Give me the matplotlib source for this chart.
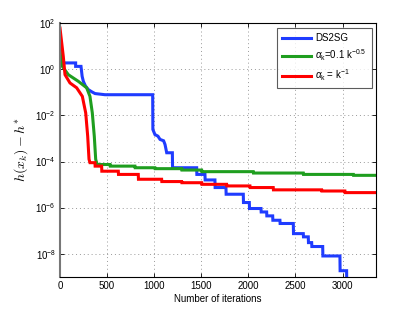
import numpy as np
import matplotlib
matplotlib.use("Agg")
import matplotlib.pyplot as plt
from matplotlib.ticker import FixedLocator, NullLocator

# ---- data (log10 of h(x_k) - h*) ----
blue_it = [0, 166, 166, 223, 235, 248, 270, 301, 340, 372, 478, 984, 986, 1008, 1040, 1062, 1100, 1115, 1133, 1193, 1195,
           1451, 1453, 1539, 1541, 1645, 1647, 1762, 1764, 1946, 1948, 2010, 2012, 2134, 2136, 2194, 2196, 2258, 2260,
           2335, 2337, 2477, 2479, 2583, 2585, 2636, 2638, 2672, 2674, 2789, 2791, 2972, 2974, 3043, 3045]
blue_lg = [0.28, 0.28, 0.13, 0.13, -0.3, -0.52, -0.72, -0.88, -0.98, -1.05, -1.1, -1.1, -2.61, -2.83, -2.9, -3.04, -3.1,
           -3.26, -3.62, -3.62, -4.27, -4.27, -4.56, -4.56, -4.8, -4.8, -5.13, -5.13, -5.42, -5.42, -5.78, -5.78,
           -6.04, -6.04, -6.19, -6.19, -6.36, -6.36, -6.55, -6.55, -6.69, -6.69, -7.13, -7.13, -7.27, -7.27, -7.52,
           -7.52, -7.69, -7.69, -8.1, -8.1, -8.74, -8.74, -9.6]

green_it = [0, 5, 25, 88, 195, 283, 318, 343, 364, 379, 395, 531, 533, 796, 798, 1008, 1010, 1292, 1294, 1504, 1506,
            2052, 2054, 2583, 2585, 3114, 3116, 3360]
green_lg = [1.14, 0.6, 0.13, -0.23, -0.52, -0.8, -1.17, -1.89, -2.9, -3.91, -4.13, -4.13, -4.2, -4.2, -4.27, -4.27,
            -4.31, -4.31, -4.37, -4.37, -4.44, -4.44, -4.5, -4.5, -4.56, -4.56, -4.6, -4.6]

red_it = [0, 35, 53, 106, 177, 237, 273, 294, 308, 318, 318, 371, 373, 442, 444, 619, 621, 831, 833, 1079, 1081,
          1292, 1294, 1504, 1506, 1769, 1771, 2017, 2019, 2264, 2266, 2778, 2780, 3025, 3027, 3360]
red_lg = [1.79, 0.56, -0.23, -0.59, -0.8, -1.17, -1.89, -2.9, -3.9, -4.05, -4.05, -4.05, -4.2, -4.2, -4.42, -4.42,
          -4.56, -4.56, -4.77, -4.77, -4.87, -4.87, -4.92, -4.92, -4.99, -4.99, -5.06, -5.06, -5.13, -5.13, -5.23,
          -5.23, -5.28, -5.28, -5.35, -5.35]

labels = ["DS2SG", r"$\alpha_{\rm k}$=0.1 k$^{-0.5}$", r"$\alpha_{\rm k}$ = k$^{-1}$"]
colors = ["#1f3cff", "#1f9e1f", "#ff0000"]
xticks = [0, 500, 1000, 1500, 2000, 2500, 3000]
yticks = [1e-8, 1e-6, 1e-4, 1e-2, 1e0, 1e2]

plt.rcParams['font.family'] = ['Liberation Sans', 'DejaVu Sans']
plt.rcParams['mathtext.fontset'] = 'custom'
plt.rcParams['mathtext.rm'] = 'Liberation Sans'
plt.rcParams['mathtext.it'] = 'Liberation Sans:italic'

fig = plt.figure(figsize=(4.15, 3.12), dpi=100)
ax = fig.add_axes([60/415, 1-276.7/312, (376-60)/415, (276.7-23.3)/312])

series = [(blue_it, blue_lg), (green_it, green_lg), (red_it, red_lg)]
for (it, lg), c, lab in zip(series, colors, labels):
    ax.plot(it, 10.0**np.array(lg), color=c, lw=2.2, label=lab, solid_joinstyle='miter')

ax.set_yscale('log')
ax.set_xlim(0, 3355)
ax.set_ylim(1e-9, 1e2)
ax.xaxis.set_major_locator(FixedLocator(xticks))
ax.yaxis.set_major_locator(FixedLocator(yticks))
ax.yaxis.set_minor_locator(NullLocator())
ax.xaxis.set_minor_locator(NullLocator())
ax.tick_params(direction='in', top=True, right=True, labelsize=7, length=3, width=0.6, pad=3)
ax.grid(True, linestyle=(0, (1, 3)), color='#999999', lw=0.7)
for s in ax.spines.values():
    s.set_linewidth(0.8)
ax.spines['left'].set_color('#777777')
ax.spines['left'].set_linewidth(1.5)

ax.set_xlabel("Number of iterations", fontsize=7, labelpad=2)
ax.set_ylabel(r"$h(x_k) - h^{*}$", fontsize=10, math_fontfamily='cm', labelpad=4)

leg = ax.legend(loc='upper right', fontsize=7, handlelength=3.0, handletextpad=0.4, frameon=True, fancybox=False,
                edgecolor='#333333', borderpad=0.5, labelspacing=0.45, borderaxespad=0,
                bbox_to_anchor=(0.986, 0.980))
leg.get_frame().set_linewidth(0.8)

fig.savefig("out.png", dpi=100)
